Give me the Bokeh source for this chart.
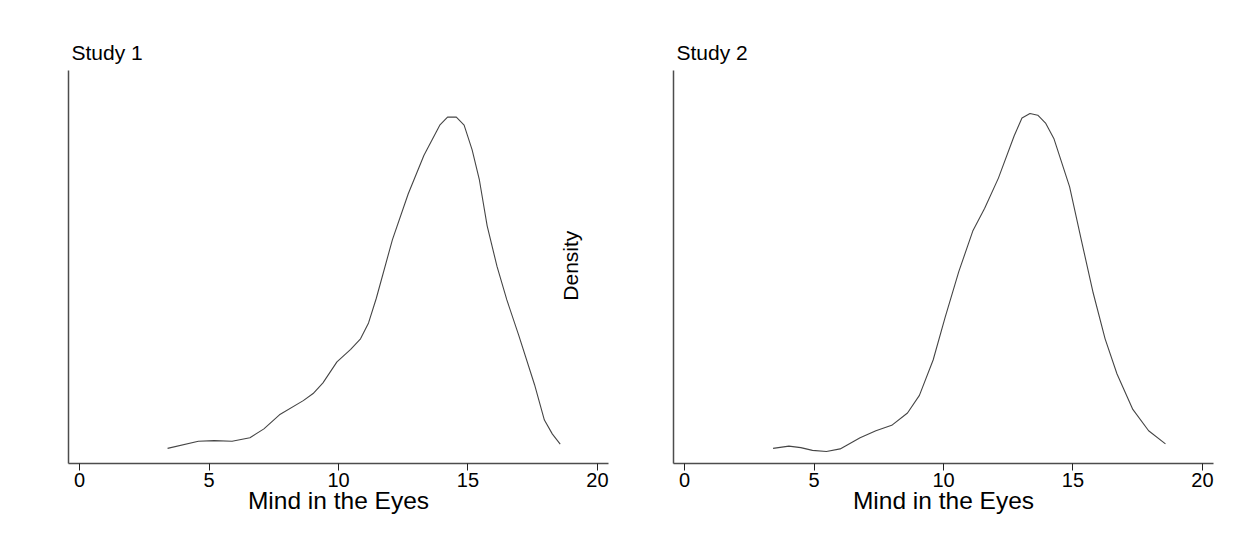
import math
from bokeh.plotting import figure
from bokeh.layouts import row
from bokeh.models import Range1d, FixedTicker, Label
from bokeh.embed import file_html
from bokeh.resources import INLINE

# ---- data ----
study1_x = [3.40, 4.59, 5.20, 5.89, 6.58, 7.12, 7.72, 8.64, 9.02, 9.40, 9.94,
            10.47, 10.85, 11.16, 11.46, 12.08, 12.69, 13.30, 13.91, 14.21, 14.55,
            14.85, 15.16, 15.44, 15.74, 16.12, 16.50, 16.96, 17.57, 17.95, 18.26, 18.56]
study1_density = [0.0031, 0.0069, 0.0072, 0.0069, 0.0088, 0.0135, 0.0210, 0.0286,
                  0.0324, 0.0381, 0.0493, 0.0560, 0.0616, 0.0701, 0.0833, 0.1145,
                  0.1390, 0.1597, 0.1758, 0.1801, 0.1801, 0.1758, 0.1626, 0.1465,
                  0.1220, 0.1003, 0.0824, 0.0635, 0.0371, 0.0182, 0.0107, 0.0054]

study2_x = [3.42, 4.03, 4.49, 4.94, 5.48, 6.01, 6.78, 7.39, 8.00, 8.61, 9.07, 9.60,
            10.06, 10.59, 11.13, 11.59, 12.12, 12.73, 13.03, 13.34, 13.64, 13.95,
            14.26, 14.87, 15.32, 15.78, 16.24, 16.70, 17.31, 17.92, 18.57]
study2_density = [0.0031, 0.0043, 0.0035, 0.0020, 0.0014, 0.0028, 0.0088, 0.0125,
                  0.0154, 0.0220, 0.0314, 0.0503, 0.0729, 0.0975, 0.1192, 0.1314,
                  0.1475, 0.1701, 0.1796, 0.1820, 0.1811, 0.1767, 0.1687, 0.1428,
                  0.1145, 0.0861, 0.0616, 0.0428, 0.0239, 0.0125, 0.0055]

x_ticks = [0, 5, 10, 15, 20]
titles = ["Study 1", "Study 2"]
x_label = "Mind in the Eyes"
y_label = "Density"

FONT = "Liberation Sans"
AXIS_COLOR = "#4d4d4d"
LINE_COLOR = "#454545"


def make_panel(title, xs, ys, width, border_left, border_right):
    p = figure(width=width, height=538, output_backend="svg", toolbar_location=None,
               x_range=Range1d(-0.425, 20.425), y_range=Range1d(-0.005, 0.205),
               min_border_left=border_left, min_border_right=border_right,
               min_border_top=70, min_border_bottom=75,
               background_fill_color="white", border_fill_color="white")
    p.outline_line_color = None
    p.grid.visible = False

    p.title.text = title
    p.title.text_font = FONT
    p.title.text_font_style = "normal"
    p.title.text_font_size = "21px"
    p.title.text_color = "black"
    p.title.align = "left"
    p.title.offset = 3
    p.title.standoff = 13

    xa = p.xaxis[0]
    xa.ticker = FixedTicker(ticks=x_ticks)
    xa.minor_tick_line_color = None
    xa.major_tick_in = 0
    xa.major_tick_out = 7
    xa.major_tick_line_color = "#222222"
    xa.axis_line_color = AXIS_COLOR
    xa.axis_line_width = 1.5
    xa.major_label_text_font = FONT
    xa.major_label_text_font_size = "20px"
    xa.major_label_text_color = "black"
    xa.major_label_standoff = 2
    xa.axis_label = x_label
    xa.axis_label_text_font = FONT
    xa.axis_label_text_font_style = "normal"
    xa.axis_label_text_font_size = "24.5px"
    xa.axis_label_text_color = "black"
    xa.axis_label_standoff = -3

    ya = p.yaxis[0]
    ya.ticker = FixedTicker(ticks=[])
    ya.minor_tick_line_color = None
    ya.major_tick_line_color = None
    ya.axis_line_color = AXIS_COLOR
    ya.axis_line_width = 1.5

    p.line(xs, ys, line_color=LINE_COLOR, line_width=1.1)
    return p


p1 = make_panel(titles[0], study1_x, study1_density, 620, 68, 12)
p2 = make_panel(titles[1], study2_x, study2_density, 610, 53, 17)

p1.add_layout(Label(x=18.97, y=0.1007, text=y_label, angle=math.pi / 2,
                    text_align="center", text_baseline="middle",
                    text_font=FONT, text_font_size="21px", text_color="black"))

layout = row(p1, p2)
open("out.html", "w").write(file_html(layout, INLINE))
